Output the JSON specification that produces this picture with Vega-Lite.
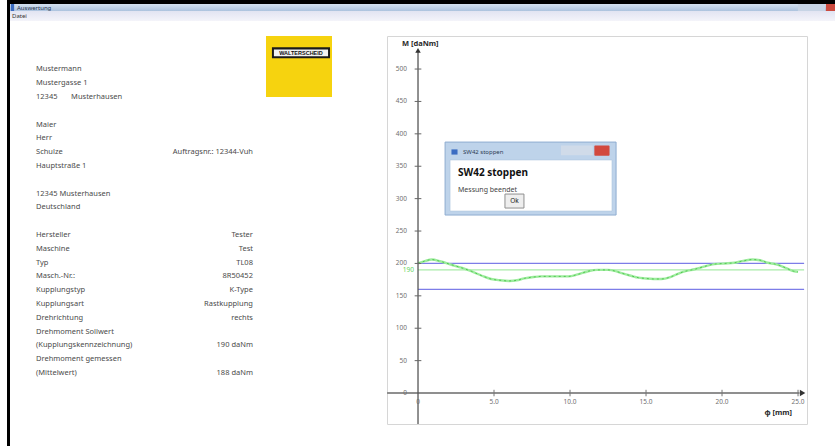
{
  "$schema": "https://vega.github.io/schema/vega-lite/v6.json",
  "padding": 0,
  "background": "white",
  "spacing": 0,
  "config": {"view": {"stroke": null}, "text": {"font": "Noto Sans"}},
  "datasets": {
    "leer": [{}],
    "kopf": [
      {"zeile": 1, "bezeichnung": "Mustermann"},
      {"zeile": 2, "bezeichnung": "Mustergasse 1"},
      {"zeile": 3, "bezeichnung": "12345\u00a0\u00a0\u00a0\u00a0\u00a0\u00a0\u00a0Musterhausen"},
      {"zeile": 5, "bezeichnung": "Maier"},
      {"zeile": 6, "bezeichnung": "Herr"},
      {"zeile": 7, "bezeichnung": "Schulze", "wert": "Auftragsnr.: 12344-Vuh"},
      {"zeile": 8, "bezeichnung": "Hauptstraße 1"},
      {"zeile": 10, "bezeichnung": "12345 Musterhausen"},
      {"zeile": 11, "bezeichnung": "Deutschland"},
      {"zeile": 13, "bezeichnung": "Hersteller", "wert": "Tester"},
      {"zeile": 14, "bezeichnung": "Maschine", "wert": "Test"},
      {"zeile": 15, "bezeichnung": "Typ", "wert": "TL08"},
      {"zeile": 16, "bezeichnung": "Masch.-Nr.:", "wert": "8R50452"},
      {"zeile": 17, "bezeichnung": "Kupplungstyp", "wert": "K-Type"},
      {"zeile": 18, "bezeichnung": "Kupplungsart", "wert": "Rastkupplung"},
      {"zeile": 19, "bezeichnung": "Drehrichtung", "wert": "rechts"},
      {"zeile": 20, "bezeichnung": "Drehmoment Sollwert"},
      {"zeile": 21, "bezeichnung": "(Kupplungskennzeichnung)", "wert": "190 daNm"},
      {"zeile": 22, "bezeichnung": "Drehmoment gemessen"},
      {"zeile": 23, "bezeichnung": "(Mittelwert)", "wert": "188 daNm"}
    ],
    "kurve": [
      {"phi": 0, "M": 200}, {"phi": 0.5, "M": 204}, {"phi": 0.9, "M": 206}, {"phi": 1.5, "M": 203},
      {"phi": 2.2, "M": 198}, {"phi": 2.9, "M": 193}, {"phi": 3.5, "M": 188}, {"phi": 4.2, "M": 181},
      {"phi": 4.8, "M": 176}, {"phi": 5.4, "M": 174}, {"phi": 6.0, "M": 173}, {"phi": 6.5, "M": 174},
      {"phi": 7.0, "M": 177}, {"phi": 7.6, "M": 179}, {"phi": 8.1, "M": 180}, {"phi": 9.0, "M": 180},
      {"phi": 9.9, "M": 180}, {"phi": 10.5, "M": 183}, {"phi": 11.2, "M": 188}, {"phi": 11.8, "M": 190},
      {"phi": 12.5, "M": 190}, {"phi": 13.0, "M": 188}, {"phi": 13.4, "M": 185}, {"phi": 14.0, "M": 181},
      {"phi": 14.5, "M": 178}, {"phi": 14.9, "M": 177}, {"phi": 15.5, "M": 176}, {"phi": 16.0, "M": 176},
      {"phi": 16.6, "M": 179}, {"phi": 17.1, "M": 184}, {"phi": 17.6, "M": 188}, {"phi": 18.2, "M": 191},
      {"phi": 18.8, "M": 195}, {"phi": 19.5, "M": 199}, {"phi": 20.2, "M": 200}, {"phi": 20.8, "M": 201},
      {"phi": 21.4, "M": 204}, {"phi": 22.0, "M": 206}, {"phi": 22.5, "M": 205}, {"phi": 23.0, "M": 201},
      {"phi": 23.5, "M": 199}, {"phi": 23.9, "M": 196}, {"phi": 24.3, "M": 192}, {"phi": 24.7, "M": 188},
      {"phi": 25.0, "M": 187}
    ],
    "grenzen": [
      {"art": "obere Grenze", "M": 200},
      {"art": "untere Grenze", "M": 160},
      {"art": "Sollwert", "M": 190}
    ],
    "yticks": [
      {"M": 0}, {"M": 50}, {"M": 100}, {"M": 150}, {"M": 200}, {"M": 250},
      {"M": 300}, {"M": 350}, {"M": 400}, {"M": 450}, {"M": 500}
    ],
    "xticks": [
      {"phi": 0, "label": "0"}, {"phi": 5, "label": "5.0"}, {"phi": 10, "label": "10.0"},
      {"phi": 15, "label": "15.0"}, {"phi": 20, "label": "20.0"}, {"phi": 25, "label": "25.0"}
    ]
  },
  "hconcat": [
    {"width": 7, "height": 446, "data": {"name": "leer"}, "mark": {"type": "rect", "color": "white"}},
    {"width": 3, "height": 446, "data": {"name": "leer"}, "mark": {"type": "rect", "color": "black"}},
    {
      "spacing": 0,
      "vconcat": [
        {"width": 825, "height": 4, "data": {"name": "leer"}, "mark": {"type": "rect", "color": "black"}},
        {
          "width": 825, "height": 7, "data": {"name": "leer"},
          "layer": [
            {"mark": {"type": "rect", "color": {"gradient": "linear", "x1": 0, "y1": 0, "x2": 0, "y2": 1, "stops": [{"offset": 0, "color": "#d4e1f0"}, {"offset": 1, "color": "#adc3de"}]}},
             "encoding": {"x": {"datum": 0, "type": "quantitative", "scale": {"domain": [0, 1]}, "axis": null}, "x2": {"datum": 1}}},
            {"mark": {"type": "rect", "color": "#3b6cc2"},
             "encoding": {"x": {"datum": 0.001, "type": "quantitative", "scale": {"domain": [0, 1]}, "axis": null}, "x2": {"datum": 0.005}}},
            {"mark": {"type": "rect", "color": "#c7d4e5"},
             "encoding": {"x": {"datum": 0.955, "type": "quantitative", "scale": {"domain": [0, 1]}, "axis": null}, "x2": {"datum": 0.988}}},
            {"mark": {"type": "rect", "color": "#cc4a3e"},
             "encoding": {"x": {"datum": 0.989, "type": "quantitative", "scale": {"domain": [0, 1]}, "axis": null}, "x2": {"datum": 1}}},
            {"mark": {"type": "text", "align": "left", "baseline": "middle", "fontSize": 6, "color": "#26334d"},
             "encoding": {"x": {"datum": 0.0085, "type": "quantitative", "scale": {"domain": [0, 1]}, "axis": null}, "text": {"value": "Auswertung"}}}
          ]
        },
        {
          "width": 825, "height": 10, "data": {"name": "leer"},
          "layer": [
            {"mark": {"type": "rect", "color": {"gradient": "linear", "x1": 0, "y1": 0, "x2": 0, "y2": 1, "stops": [{"offset": 0, "color": "#e2e4f2"}, {"offset": 1, "color": "#f4f4fa"}]}},
             "encoding": {"x": {"datum": 0, "type": "quantitative", "scale": {"domain": [0, 1]}, "axis": null}, "x2": {"datum": 1}}},
            {"mark": {"type": "text", "align": "left", "baseline": "middle", "fontSize": 6, "color": "#333333"},
             "encoding": {"x": {"datum": 0.0025, "type": "quantitative", "scale": {"domain": [0, 1]}, "axis": null}, "text": {"value": "Datei"}}}
          ]
        },
        {"width": 825, "height": 14, "data": {"name": "leer"}, "mark": {"type": "rect", "color": "white"}},
        {
          "spacing": 0,
          "hconcat": [
            {
              "width": 256, "height": 388,
              "data": {"name": "kopf"},
              "layer": [
                {"mark": {"type": "text", "align": "left", "baseline": "middle", "fontSize": 7.5, "color": "#4a4a4a"},
                 "encoding": {
                   "x": {"datum": 0.1016, "type": "quantitative", "scale": {"domain": [0, 1]}, "axis": null},
                   "y": {"field": "zeile", "type": "quantitative", "scale": {"domain": [-1.413, 26.7], "reverse": true, "nice": false, "zero": false}, "axis": null},
                   "text": {"field": "bezeichnung"}}},
                {"transform": [{"filter": "datum.wert"}],
                 "mark": {"type": "text", "align": "right", "baseline": "middle", "fontSize": 7.5, "color": "#4a4a4a"},
                 "encoding": {
                   "x": {"datum": 0.949, "type": "quantitative", "scale": {"domain": [0, 1]}, "axis": null},
                   "y": {"field": "zeile", "type": "quantitative", "scale": {"domain": [-1.413, 26.7], "reverse": true, "nice": false, "zero": false}, "axis": null},
                   "text": {"field": "wert"}}}
              ]
            },
            {
              "width": 66, "height": 61,
              "data": {"name": "leer"},
              "layer": [
                {"mark": {"type": "rect", "color": "#f6d30f"},
                 "encoding": {"x": {"datum": 0, "type": "quantitative", "scale": {"domain": [0, 1]}, "axis": null}, "x2": {"datum": 1},
                              "y": {"datum": 0, "type": "quantitative", "scale": {"domain": [0, 1]}, "axis": null}, "y2": {"datum": 1}}},
                {"mark": {"type": "rect", "color": "#1a1a1a"},
                 "encoding": {"x": {"datum": 0.09, "type": "quantitative", "scale": {"domain": [0, 1]}, "axis": null}, "x2": {"datum": 0.97},
                              "y": {"datum": 0.635, "type": "quantitative", "scale": {"domain": [0, 1]}, "axis": null}, "y2": {"datum": 0.815}}},
                {"mark": {"type": "rect", "color": "#f2f2f2"},
                 "encoding": {"x": {"datum": 0.12, "type": "quantitative", "scale": {"domain": [0, 1]}, "axis": null}, "x2": {"datum": 0.94},
                              "y": {"datum": 0.67, "type": "quantitative", "scale": {"domain": [0, 1]}, "axis": null}, "y2": {"datum": 0.78}}},
                {"mark": {"type": "text", "align": "center", "baseline": "middle", "fontSize": 5.5, "fontWeight": "bold", "color": "#111111", "font": "Liberation Sans"},
                 "encoding": {"x": {"datum": 0.53, "type": "quantitative", "scale": {"domain": [0, 1]}, "axis": null},
                              "y": {"datum": 0.725, "type": "quantitative", "scale": {"domain": [0, 1]}, "axis": null},
                              "text": {"value": "WALTERSCHEID"}}}
              ]
            },
            {"width": 53, "height": 1, "data": {"name": "leer"}, "mark": {"type": "rect", "color": "white"}},
            {
              "width": 420, "height": 388,
              "view": {"stroke": "#d6d6d6", "strokeWidth": 1},
              "layer": [
                {"data": {"name": "grenzen"},
                 "mark": {"type": "rule", "strokeWidth": 1.3},
                 "encoding": {
                   "x": {"datum": 0, "type": "quantitative", "scale": {"domain": [-2.04, 25.59], "nice": false, "zero": false}, "axis": null},
                   "x2": {"datum": 25.4},
                   "y": {"field": "M", "type": "quantitative", "scale": {"domain": [-47.8, 551], "nice": false, "zero": false}, "axis": null},
                   "color": {"field": "art", "type": "nominal", "scale": {"domain": ["obere Grenze", "untere Grenze", "Sollwert"], "range": ["#7d7de8", "#7d7de8", "#a8eca8"]}, "legend": null}}},
                {"data": {"name": "grenzen"},
                 "transform": [{"filter": "datum.art === 'Sollwert'"}],
                 "mark": {"type": "text", "align": "right", "baseline": "middle", "dx": -4, "fontSize": 6.5, "color": "#5fd35f"},
                 "encoding": {
                   "x": {"datum": 0, "type": "quantitative", "scale": {"domain": [-2.04, 25.59], "nice": false, "zero": false}, "axis": null},
                   "y": {"field": "M", "type": "quantitative", "scale": {"domain": [-47.8, 551], "nice": false, "zero": false}, "axis": null},
                   "text": {"field": "M"}}},
                {"data": {"name": "kurve"},
                 "mark": {"type": "line", "color": "#9eec9e", "strokeWidth": 2.4, "interpolate": "monotone"},
                 "encoding": {
                   "x": {"field": "phi", "type": "quantitative", "scale": {"domain": [-2.04, 25.59], "nice": false, "zero": false}, "axis": null},
                   "y": {"field": "M", "type": "quantitative", "scale": {"domain": [-47.8, 551], "nice": false, "zero": false}, "axis": null}}},
                {"data": {"name": "kurve"},
                 "mark": {"type": "line", "color": "#52c852", "strokeWidth": 1, "strokeDash": [2, 3], "interpolate": "monotone"},
                 "encoding": {
                   "x": {"field": "phi", "type": "quantitative", "scale": {"domain": [-2.04, 25.59], "nice": false, "zero": false}, "axis": null},
                   "y": {"field": "M", "type": "quantitative", "scale": {"domain": [-47.8, 551], "nice": false, "zero": false}, "axis": null}}},
                {"data": {"name": "leer"},
                 "mark": {"type": "rule", "color": "#8f8f8f", "strokeWidth": 2},
                 "encoding": {
                   "x": {"datum": -2.04, "type": "quantitative", "scale": {"domain": [-2.04, 25.59], "nice": false, "zero": false}, "axis": null},
                   "x2": {"datum": 25.1},
                   "y": {"datum": 0, "type": "quantitative", "scale": {"domain": [-47.8, 551], "nice": false, "zero": false}, "axis": null}}},
                {"data": {"name": "leer"},
                 "mark": {"type": "rule", "color": "#555555", "strokeWidth": 1.3},
                 "encoding": {
                   "x": {"datum": 0, "type": "quantitative", "scale": {"domain": [-2.04, 25.59], "nice": false, "zero": false}, "axis": null},
                   "y": {"datum": -47.8, "type": "quantitative", "scale": {"domain": [-47.8, 551], "nice": false, "zero": false}, "axis": null},
                   "y2": {"datum": 527}}},
                {"data": {"name": "leer"},
                 "mark": {"type": "point", "shape": "triangle-right", "size": 40, "filled": true, "color": "#333333", "opacity": 1},
                 "encoding": {
                   "x": {"datum": 25.3, "type": "quantitative", "scale": {"domain": [-2.04, 25.59], "nice": false, "zero": false}, "axis": null},
                   "y": {"datum": 0, "type": "quantitative", "scale": {"domain": [-47.8, 551], "nice": false, "zero": false}, "axis": null}}},
                {"data": {"name": "leer"},
                 "mark": {"type": "point", "shape": "triangle-up", "size": 30, "filled": true, "color": "#333333", "opacity": 1},
                 "encoding": {
                   "x": {"datum": 0, "type": "quantitative", "scale": {"domain": [-2.04, 25.59], "nice": false, "zero": false}, "axis": null},
                   "y": {"datum": 529, "type": "quantitative", "scale": {"domain": [-47.8, 551], "nice": false, "zero": false}, "axis": null}}},
                {"data": {"name": "yticks"},
                 "transform": [{"filter": "datum.M > 0"}],
                 "mark": {"type": "rule", "color": "#666666", "strokeWidth": 1},
                 "encoding": {
                   "x": {"datum": -0.22, "type": "quantitative", "scale": {"domain": [-2.04, 25.59], "nice": false, "zero": false}, "axis": null},
                   "x2": {"datum": 0.22},
                   "y": {"field": "M", "type": "quantitative", "scale": {"domain": [-47.8, 551], "nice": false, "zero": false}, "axis": null}}},
                {"data": {"name": "yticks"},
                 "mark": {"type": "text", "align": "right", "baseline": "middle", "dx": -11, "fontSize": 6.5, "color": "#707070"},
                 "encoding": {
                   "x": {"datum": 0, "type": "quantitative", "scale": {"domain": [-2.04, 25.59], "nice": false, "zero": false}, "axis": null},
                   "y": {"field": "M", "type": "quantitative", "scale": {"domain": [-47.8, 551], "nice": false, "zero": false}, "axis": null},
                   "text": {"field": "M"}}},
                {"data": {"name": "xticks"},
                 "transform": [{"filter": "datum.phi > 0"}],
                 "mark": {"type": "rule", "color": "#777777", "strokeWidth": 1},
                 "encoding": {
                   "x": {"field": "phi", "type": "quantitative", "scale": {"domain": [-2.04, 25.59], "nice": false, "zero": false}, "axis": null},
                   "y": {"datum": -5, "type": "quantitative", "scale": {"domain": [-47.8, 551], "nice": false, "zero": false}, "axis": null},
                   "y2": {"datum": 5}}},
                {"data": {"name": "xticks"},
                 "mark": {"type": "text", "align": "center", "baseline": "middle", "dy": 9, "fontSize": 6.5, "color": "#707070"},
                 "encoding": {
                   "x": {"field": "phi", "type": "quantitative", "scale": {"domain": [-2.04, 25.59], "nice": false, "zero": false}, "axis": null},
                   "y": {"datum": 0, "type": "quantitative", "scale": {"domain": [-47.8, 551], "nice": false, "zero": false}, "axis": null},
                   "text": {"field": "label"}}},
                {"data": {"name": "leer"},
                 "mark": {"type": "text", "align": "center", "baseline": "middle", "fontSize": 7.5, "fontWeight": "bold", "color": "#2a2a2a"},
                 "encoding": {
                   "x": {"datum": 0.15, "type": "quantitative", "scale": {"domain": [-2.04, 25.59], "nice": false, "zero": false}, "axis": null},
                   "y": {"datum": 538, "type": "quantitative", "scale": {"domain": [-47.8, 551], "nice": false, "zero": false}, "axis": null},
                   "text": {"value": "M [daNm]"}}},
                {"data": {"name": "leer"},
                 "mark": {"type": "text", "align": "center", "baseline": "middle", "fontSize": 7.5, "fontWeight": "bold", "color": "#2a2a2a"},
                 "encoding": {
                   "x": {"datum": 23.7, "type": "quantitative", "scale": {"domain": [-2.04, 25.59], "nice": false, "zero": false}, "axis": null},
                   "y": {"datum": -31, "type": "quantitative", "scale": {"domain": [-47.8, 551], "nice": false, "zero": false}, "axis": null},
                   "text": {"value": "φ [mm]"}}},
                {"data": {"name": "leer"},
                 "mark": {"type": "rect", "color": "#bed3ea", "stroke": "#8fadd0", "strokeWidth": 1},
                 "encoding": {
                   "x": {"datum": 1.78, "type": "quantitative", "scale": {"domain": [-2.04, 25.59], "nice": false, "zero": false}, "axis": null},
                   "x2": {"datum": 13.03},
                   "y": {"datum": 274.7, "type": "quantitative", "scale": {"domain": [-47.8, 551], "nice": false, "zero": false}, "axis": null},
                   "y2": {"datum": 387.3}}},
                {"data": {"name": "leer"},
                 "mark": {"type": "rect", "color": "#d0dbe9"},
                 "encoding": {
                   "x": {"datum": 9.4, "type": "quantitative", "scale": {"domain": [-2.04, 25.59], "nice": false, "zero": false}, "axis": null},
                   "x2": {"datum": 11.5},
                   "y": {"datum": 367, "type": "quantitative", "scale": {"domain": [-47.8, 551], "nice": false, "zero": false}, "axis": null},
                   "y2": {"datum": 382}}},
                {"data": {"name": "leer"},
                 "mark": {"type": "rect", "color": "#d2493e", "cornerRadius": 1},
                 "encoding": {
                   "x": {"datum": 11.6, "type": "quantitative", "scale": {"domain": [-2.04, 25.59], "nice": false, "zero": false}, "axis": null},
                   "x2": {"datum": 12.6},
                   "y": {"datum": 366, "type": "quantitative", "scale": {"domain": [-47.8, 551], "nice": false, "zero": false}, "axis": null},
                   "y2": {"datum": 382}}},
                {"data": {"name": "leer"},
                 "mark": {"type": "rect", "color": "#3b6cc2"},
                 "encoding": {
                   "x": {"datum": 2.2, "type": "quantitative", "scale": {"domain": [-2.04, 25.59], "nice": false, "zero": false}, "axis": null},
                   "x2": {"datum": 2.6},
                   "y": {"datum": 368, "type": "quantitative", "scale": {"domain": [-47.8, 551], "nice": false, "zero": false}, "axis": null},
                   "y2": {"datum": 376}}},
                {"data": {"name": "leer"},
                 "mark": {"type": "text", "align": "left", "baseline": "middle", "fontSize": 6, "color": "#2d3d55"},
                 "encoding": {
                   "x": {"datum": 2.96, "type": "quantitative", "scale": {"domain": [-2.04, 25.59], "nice": false, "zero": false}, "axis": null},
                   "y": {"datum": 372, "type": "quantitative", "scale": {"domain": [-47.8, 551], "nice": false, "zero": false}, "axis": null},
                   "text": {"value": "SW42 stoppen"}}},
                {"data": {"name": "leer"},
                 "mark": {"type": "rect", "color": "white", "stroke": "#a9c0da", "strokeWidth": 0.5},
                 "encoding": {
                   "x": {"datum": 2.11, "type": "quantitative", "scale": {"domain": [-2.04, 25.59], "nice": false, "zero": false}, "axis": null},
                   "x2": {"datum": 12.76},
                   "y": {"datum": 280.9, "type": "quantitative", "scale": {"domain": [-47.8, 551], "nice": false, "zero": false}, "axis": null},
                   "y2": {"datum": 359.6}}},
                {"data": {"name": "leer"},
                 "mark": {"type": "text", "align": "left", "baseline": "middle", "fontSize": 10, "fontWeight": "bold", "color": "#111111"},
                 "encoding": {
                   "x": {"datum": 2.63, "type": "quantitative", "scale": {"domain": [-2.04, 25.59], "nice": false, "zero": false}, "axis": null},
                   "y": {"datum": 339.5, "type": "quantitative", "scale": {"domain": [-47.8, 551], "nice": false, "zero": false}, "axis": null},
                   "text": {"value": "SW42 stoppen"}}},
                {"data": {"name": "leer"},
                 "mark": {"type": "text", "align": "left", "baseline": "middle", "fontSize": 7, "color": "#444444"},
                 "encoding": {
                   "x": {"datum": 2.63, "type": "quantitative", "scale": {"domain": [-2.04, 25.59], "nice": false, "zero": false}, "axis": null},
                   "y": {"datum": 314, "type": "quantitative", "scale": {"domain": [-47.8, 551], "nice": false, "zero": false}, "axis": null},
                   "text": {"value": "Messung beendet"}}},
                {"data": {"name": "leer"},
                 "mark": {"type": "rect", "color": "#eeeeee", "stroke": "#8f8f8f", "strokeWidth": 1},
                 "encoding": {
                   "x": {"datum": 5.72, "type": "quantitative", "scale": {"domain": [-2.04, 25.59], "nice": false, "zero": false}, "axis": null},
                   "x2": {"datum": 6.97},
                   "y": {"datum": 285.5, "type": "quantitative", "scale": {"domain": [-47.8, 551], "nice": false, "zero": false}, "axis": null},
                   "y2": {"datum": 307.1}}},
                {"data": {"name": "leer"},
                 "mark": {"type": "text", "align": "center", "baseline": "middle", "fontSize": 6.5, "color": "#222222"},
                 "encoding": {
                   "x": {"datum": 6.35, "type": "quantitative", "scale": {"domain": [-2.04, 25.59], "nice": false, "zero": false}, "axis": null},
                   "y": {"datum": 296.3, "type": "quantitative", "scale": {"domain": [-47.8, 551], "nice": false, "zero": false}, "axis": null},
                   "text": {"value": "Ok"}}}
              ]
            }
          ]
        }
      ]
    }
  ]
}
